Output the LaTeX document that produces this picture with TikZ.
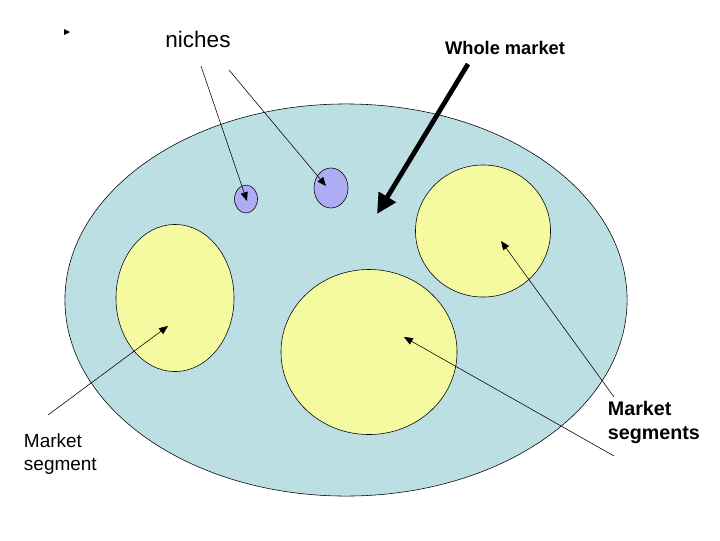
\documentclass[tikz,border=0pt]{standalone}
\usepackage{fontspec}
\setmainfont{Liberation Sans}
\usepackage{tikz}
\usetikzlibrary{arrows.meta,shapes.geometric}
\definecolor{MktBlue}{HTML}{BCDFE3}
\definecolor{MktYellow}{HTML}{F5FAA0}
\definecolor{MktNiche}{HTML}{AEACF2}
\tikzset{
  segm/.style={ellipse,draw,fill=MktYellow,inner sep=0pt},
  niche/.style={ellipse,draw,fill=MktNiche,inner sep=0pt},
  pointer/.style={-{Triangle[length=2.2mm,width=1.8mm]}},
}

\begin{document}
\begin{tikzpicture}[x=0.025cm,y=-0.025cm]
  \useasboundingbox (0,0) rectangle (720,540);
  % whole market and its parts
  \node[ellipse,draw,fill=MktBlue,inner sep=0pt,minimum width=14.05cm,minimum height=9.8cm] (whole) at (346,300) {};
  \node[segm,minimum width=2.95cm,minimum height=3.675cm] (segL) at (175,298) {};
  \node[segm,minimum width=4.4cm,minimum height=4.125cm] (segC) at (369,352) {};
  \node[segm,minimum width=3.375cm,minimum height=3.3cm] (segR) at (483,231) {};
  \node[niche,minimum width=0.575cm,minimum height=0.7cm] (nicheA) at (246,199) {};
  \node[niche,minimum width=0.85cm,minimum height=1cm] (nicheB) at (331,188) {};
  % labels
  \node[font=\fontsize{16}{19}\selectfont] (lblNiche) at (198,39) {niches};
  \node[font=\fontsize{13}{16}\selectfont\bfseries] (lblWhole) at (505,48) {Whole market};
  \node[anchor=west,align=left,font=\fontsize{13.5}{16.3}\selectfont] (lblSeg) at (19,454) {Market\\segment};
  \node[anchor=west,align=left,font=\fontsize{14}{17}\selectfont\bfseries] (lblSegs) at (603,422) {Market\\segments};
  % pointer ends
  \coordinate (pA) at (201,66);
  \coordinate (pB) at (229,70);
  \coordinate (pW) at (468,64);
  \coordinate (pL) at (48,415);
  \coordinate (pR1) at (614,397);
  \coordinate (pR2) at (614,456);
  \coordinate (tA) at (247,201);
  \coordinate (tB) at (326,186);
  \coordinate (tW) at (377,214);
  \coordinate (tL) at (168,326);
  \coordinate (tR1) at (501,241);
  \coordinate (tR2) at (404,337);
  \draw[pointer] (pA) -- (tA);
  \draw[pointer] (pB) -- (tB);
  \draw[line width=3.4pt,-{Triangle[length=5mm,width=4.8mm]}] (pW) -- (tW);
  \draw[pointer] (pL) -- (tL);
  \draw[pointer] (pR1) -- (tR1);
  \draw[pointer] (pR2) -- (tR2);
  % stray marker
  \fill (64,29) -- (70,32) -- (64,35) -- cycle;
\end{tikzpicture}
\end{document}
